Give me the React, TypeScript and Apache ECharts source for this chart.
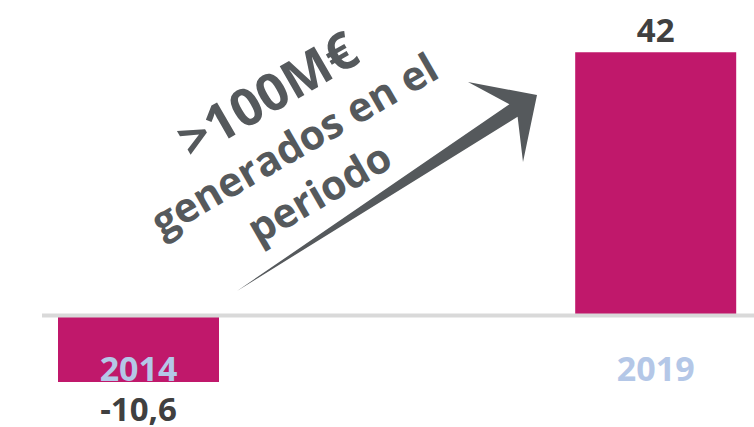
import React, { useEffect, useRef } from "react";
import * as echarts from "echarts";

const categories = ["2014", "2019"];
const values = [-10.6, 42];
const annotationLines = [">100M€", "generados en el", "periodo"];

export default function App() {
  const ref = useRef<HTMLDivElement>(null);
  useEffect(() => {
    const chart = echarts.init(ref.current!, null, { renderer: "svg" });
    const font = "'Open Sans', 'Noto Sans', sans-serif";
    chart.setOption({
      animation: false,
      grid: {
        left: -120.1,
        right: -160.3,
        top: 2.15,
        bottom: -13.8,
        containLabel: false,
        outerBoundsMode: "none",
      },
      xAxis: {
        type: "category",
        data: categories,
        z: 10,
        axisLine: { show: true, onZero: false, lineStyle: { opacity: 0 } },
        axisTick: { show: false },
        splitLine: { show: false },
        axisLabel: { margin: 36, fontSize: 34, fontWeight: "bold", color: "#b4c7e7", fontFamily: font },
      },
      yAxis: {
        type: "value",
        min: -20,
        max: 50,
        show: true,
        axisLine: { show: false },
        axisTick: { show: false },
        axisLabel: { show: false },
        splitLine: { show: false },
      },
      series: [
        {
          type: "bar",
          barWidth: 161,
          data: values.map((v) => ({
            value: v,
            label: { position: v < 0 ? "bottom" : "top", distance: v < 0 ? 10 : 6 },
          })),
          itemStyle: { color: "#c0186b" },
          label: {
            show: true,
            fontSize: 33,
            fontWeight: "bold",
            color: "#404040",
            fontFamily: font,
            formatter: (p: any) => String(p.value).replace(".", ","),
          },
        },
      ],
    });
    const y0 = chart.convertToPixel({ yAxisIndex: 0 }, 0) as number;
    const yBottom = chart.convertToPixel({ yAxisIndex: 0 }, -20) as number;
    const grey = "#55595c";
    const rot = Math.PI / 6;
    chart.setOption({
      xAxis: { offset: -(yBottom - y0) },
      graphic: [
        {
          type: "line",
          z: 20,
          shape: { x1: 42, y1: y0, x2: 754, y2: y0 },
          style: { stroke: "#d9d9d9", lineWidth: 4 },
        },
        {
          type: "polygon",
          z: 20,
          shape: {
            points: [
              [237, 291],
              [509.4, 104.2],
              [468, 82],
              [537, 95],
              [523, 162],
              [517.6, 116.8],
            ],
          },
          style: { fill: grey },
        },
        {
          type: "text",
          z: 20,
          x: 266.5,
          y: 93,
          rotation: rot,
          style: { text: annotationLines[0], fontSize: 52, fontWeight: "bold", fontFamily: font, fill: grey, align: "center", verticalAlign: "middle" },
        },
        {
          type: "text",
          z: 20,
          x: 293.5,
          y: 143.5,
          rotation: rot,
          style: { text: annotationLines[1], fontSize: 41, fontWeight: "bold", fontFamily: font, fill: grey, align: "center", verticalAlign: "middle" },
        },
        {
          type: "text",
          z: 20,
          x: 318.5,
          y: 191.5,
          rotation: rot,
          style: { text: annotationLines[2], fontSize: 41, fontWeight: "bold", fontFamily: font, fill: grey, align: "center", verticalAlign: "middle" },
        },
      ],
    });
    return () => chart.dispose();
  }, []);
  return (
    <div
      ref={ref}
      style={{ position: "fixed", left: 0, top: 0, width: 754, height: 427, background: "#ffffff" }}
    />
  );
}
